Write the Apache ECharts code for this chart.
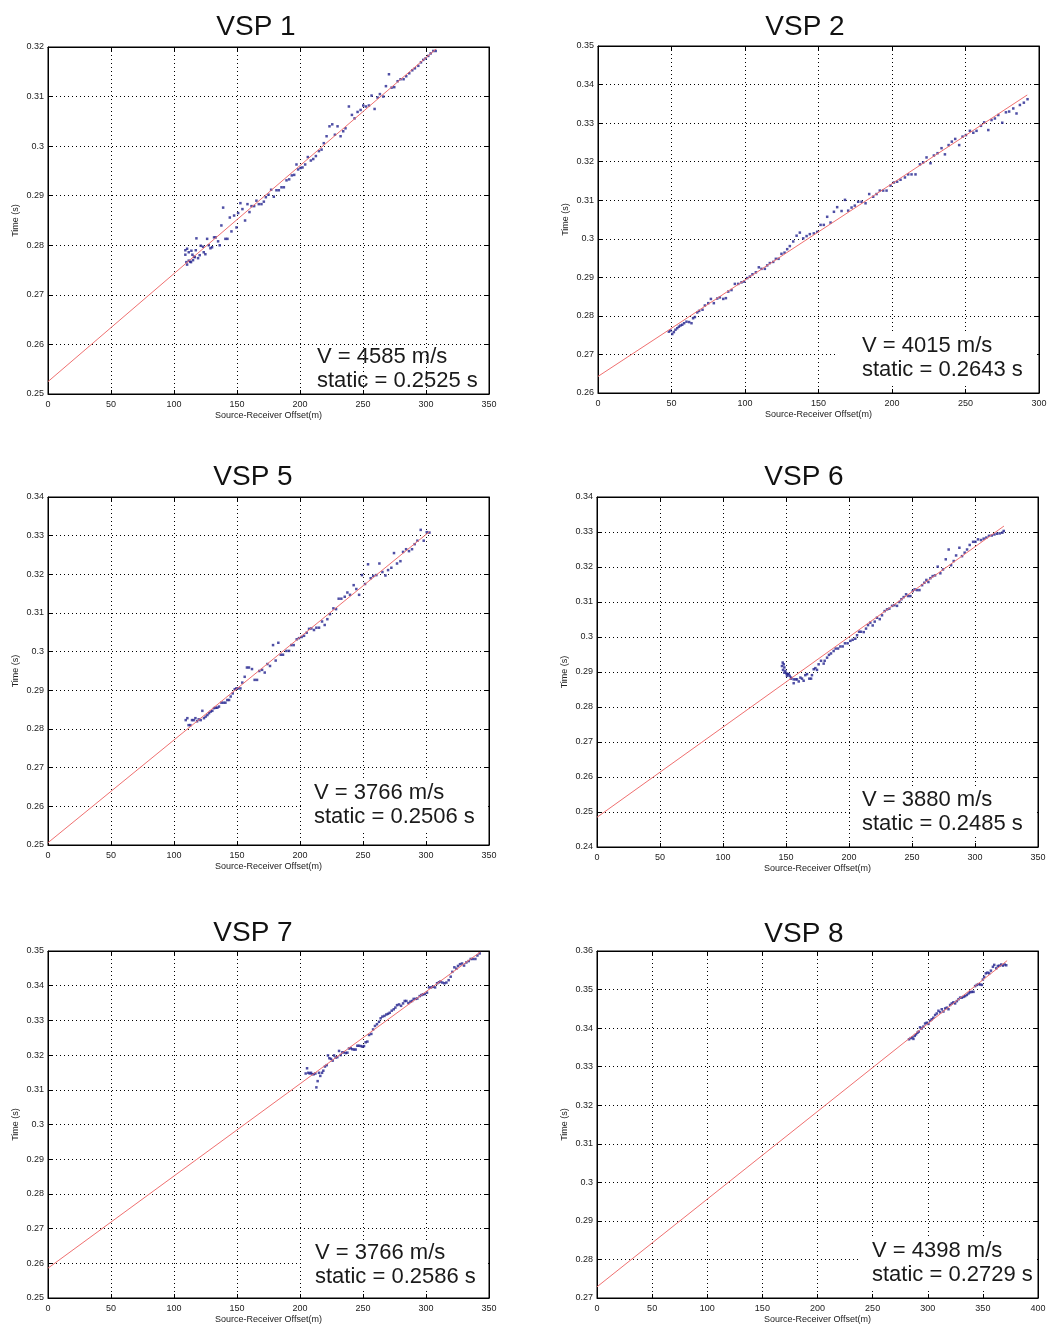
<!DOCTYPE html>
<html><head><meta charset="utf-8">
<script src="https://cdn.jsdelivr.net/npm/echarts@6/dist/echarts.min.js"></script>
<style>html,body{margin:0;padding:0;background:#fff}#c{width:1047px;height:1326px}</style>
</head><body><div id="c"></div>
<script>
// ---------------- DATA ----------------
const titles = ['VSP 1', 'VSP 2', 'VSP 5', 'VSP 6', 'VSP 7', 'VSP 8'];
const velocityLabels = ['V = 4585 m/s', 'V = 4015 m/s', 'V = 3766 m/s', 'V = 3880 m/s', 'V = 3766 m/s', 'V = 4398 m/s'];
const staticLabels = ['static = 0.2525 s', 'static = 0.2643 s', 'static = 0.2506 s', 'static = 0.2485 s', 'static = 0.2586 s', 'static = 0.2729 s'];
const xAxisMax = [350, 300, 350, 350, 350, 400];
const yAxisMin = [0.25, 0.26, 0.25, 0.24, 0.25, 0.27];
const yAxisMax = [0.32, 0.35, 0.34, 0.34, 0.35, 0.36];
const xTickStep = 50;
const yTickStep = 0.01;
const xAxisName = 'Source-Receiver Offset(m)';
const yAxisName = 'Time (s)';

// fitted lines: endpoints
const vsp1Fit = [[0, 0.2525], [308, 0.3196]];
const vsp2Fit = [[0, 0.2643], [292, 0.3373]];
const vsp5Fit = [[0, 0.2506], [303, 0.3311]];
const vsp6Fit = [[0, 0.2485], [323, 0.3317]];
const vsp7Fit = [[0, 0.2586], [343, 0.3497]];
const vsp8Fit = [[0, 0.2729], [372, 0.3575]];

// picked first-break times [offset m, time s]
const vsp1Points = [[109.0,0.2790],[110.4,0.2793],[109.0,0.2781],[111.7,0.2786],[113.8,0.2789],[117.3,0.2790],[114.6,0.2781],[115.9,0.2777],[112.8,0.2767],[109.8,0.2766],[110.4,0.2761],[111.7,0.2769],[113.5,0.2766],[115.1,0.2770],[116.5,0.2776],[117.8,0.2814],[119.1,0.2774],[120.4,0.2780],[121.2,0.2799],[123.1,0.2797],[123.6,0.2786],[124.9,0.2782],[126.3,0.2813],[127.6,0.2800],[128.9,0.2794],[130.2,0.2796],[131.8,0.2816],[133.1,0.2816],[135.0,0.2808],[136.3,0.2800],[137.6,0.2840],[139.0,0.2876],[140.8,0.2813],[142.4,0.2813],[144.3,0.2856],[145.6,0.2828],[147.7,0.2860],[149.6,0.2836],[150.9,0.2865],[152.7,0.2885],[154.3,0.2873],[156.4,0.2850],[158.3,0.2883],[159.9,0.2867],[161.5,0.2879],[163.6,0.2879],[165.4,0.2890],[167.3,0.2883],[169.4,0.2883],[171.3,0.2888],[172.9,0.2897],[175.0,0.2902],[177.1,0.2912],[179.2,0.2898],[181.3,0.2911],[183.2,0.2911],[185.3,0.2917],[187.2,0.2917],[189.3,0.2931],[191.4,0.2933],[193.5,0.2941],[195.4,0.2942],[197.2,0.2963],[198.5,0.2953],[200.4,0.2956],[202.0,0.2957],[204.1,0.2963],[206.2,0.2978],[208.6,0.2971],[210.5,0.2974],[212.6,0.2980],[215.0,0.2990],[217.1,0.2993],[218.9,0.3006],[221.1,0.3020],[223.4,0.3040],[225.6,0.3044],[227.7,0.3023],[229.8,0.3040],[232.2,0.3020],[234.3,0.3030],[236.1,0.3036],[238.8,0.3080],[241.2,0.3063],[243.3,0.3056],[245.7,0.3069],[248.1,0.3073],[250.2,0.3082],[252.3,0.3080],[254.7,0.3082],[256.8,0.3102],[259.2,0.3075],[261.6,0.3098],[263.4,0.3105],[266.1,0.3100],[268.2,0.3121],[270.6,0.3145],[272.7,0.3118],[274.8,0.3119],[277.5,0.3131],[279.8,0.3135],[282.2,0.3135],[284.3,0.3141],[286.7,0.3147],[289.1,0.3153],[291.2,0.3157],[293.9,0.3162],[296.0,0.3169],[297.8,0.3174],[299.7,0.3177],[301.8,0.3182],[303.7,0.3187],[305.8,0.3192],[307.7,0.3192]];

const vsp2Points = [[48.2,0.2759],[49.3,0.2762],[50.5,0.2753],[51.6,0.2758],[52.7,0.2764],[53.9,0.2768],[55.0,0.2772],[56.1,0.2775],[57.3,0.2777],[58.6,0.2781],[60.2,0.2785],[62.0,0.2784],[63.6,0.2781],[64.7,0.2794],[65.9,0.2797],[67.5,0.2809],[68.8,0.2813],[71.1,0.2816],[72.7,0.2827],[75.0,0.2833],[76.8,0.2844],[78.8,0.2833],[81.1,0.2845],[82.9,0.2848],[85.2,0.2844],[87.0,0.2846],[88.6,0.2863],[90.8,0.2867],[93.1,0.2883],[95.4,0.2883],[97.6,0.2887],[99.4,0.2889],[101.5,0.2898],[103.3,0.2902],[105.1,0.2908],[107.4,0.2913],[109.4,0.2926],[111.2,0.2922],[113.5,0.2922],[115.1,0.2931],[116.9,0.2937],[119.2,0.2940],[121.0,0.2948],[122.8,0.2948],[124.8,0.2961],[126.9,0.2964],[128.7,0.2973],[130.5,0.2981],[132.8,0.2993],[135.1,0.3008],[137.3,0.3016],[139.6,0.3001],[141.9,0.3007],[144.1,0.3012],[146.8,0.3014],[149.1,0.3018],[151.4,0.3036],[153.6,0.3036],[155.9,0.3057],[158.2,0.3042],[160.5,0.3070],[162.7,0.3082],[165.7,0.3072],[168.0,0.3101],[170.2,0.3073],[172.5,0.3081],[174.7,0.3086],[177.0,0.3096],[179.3,0.3096],[182.0,0.3092],[184.5,0.3116],[187.2,0.3109],[189.5,0.3116],[191.7,0.3125],[194.0,0.3125],[196.3,0.3125],[199.0,0.3138],[201.3,0.3146],[203.5,0.3148],[205.8,0.3153],[208.8,0.3159],[211.0,0.3167],[213.3,0.3167],[216.0,0.3167],[219.0,0.3193],[221.2,0.3198],[223.5,0.3211],[226.2,0.3196],[228.5,0.3216],[231.0,0.3222],[233.7,0.3235],[236.0,0.3219],[238.5,0.3243],[240.7,0.3252],[243.0,0.3259],[245.7,0.3243],[248.0,0.3265],[250.3,0.3269],[253.0,0.3280],[255.3,0.3275],[257.5,0.3280],[260.5,0.3293],[262.7,0.3302],[265.5,0.3282],[267.7,0.3308],[270.0,0.3312],[272.3,0.3321],[275.0,0.3301],[277.5,0.3328],[279.7,0.3330],[282.5,0.3338],[284.7,0.3325],[287.0,0.3347],[289.7,0.3353],[292.2,0.3362]];

const vsp5Points = [[109.3,0.2823],[110.6,0.2828],[111.6,0.2810],[113.0,0.2810],[114.3,0.2823],[115.6,0.2823],[117.0,0.2828],[118.3,0.2820],[119.6,0.2825],[121.2,0.2823],[122.5,0.2847],[123.8,0.2828],[125.1,0.2832],[126.5,0.2836],[127.8,0.2841],[129.1,0.2845],[130.4,0.2847],[131.8,0.2854],[133.1,0.2855],[134.4,0.2855],[135.7,0.2858],[137.6,0.2868],[139.2,0.2868],[140.8,0.2868],[142.3,0.2875],[143.7,0.2875],[145.0,0.2884],[146.6,0.2892],[148.2,0.2903],[149.5,0.2905],[150.8,0.2905],[152.7,0.2905],[154.2,0.2920],[156.1,0.2935],[157.9,0.2959],[159.5,0.2959],[161.9,0.2955],[164.0,0.2927],[165.9,0.2927],[167.7,0.2950],[169.9,0.2953],[172.0,0.2946],[174.1,0.2968],[176.2,0.2963],[178.6,0.3017],[180.7,0.2977],[182.8,0.3023],[184.7,0.2992],[186.5,0.2992],[189.2,0.3002],[191.3,0.3002],[193.1,0.3017],[195.0,0.3017],[197.4,0.3032],[199.2,0.3035],[201.3,0.3038],[203.2,0.3041],[205.3,0.3049],[207.2,0.3059],[209.0,0.3060],[211.1,0.3056],[213.0,0.3062],[215.1,0.3062],[217.5,0.3078],[219.6,0.3069],[221.7,0.3084],[223.8,0.3097],[226.5,0.3112],[228.6,0.3110],[230.7,0.3137],[232.8,0.3137],[235.5,0.3142],[237.6,0.3153],[239.7,0.3147],[242.6,0.3172],[244.7,0.3162],[246.9,0.3147],[249.2,0.3198],[251.6,0.3175],[254.0,0.3226],[256.1,0.3190],[258.2,0.3196],[260.6,0.3198],[263.0,0.3228],[265.4,0.3206],[267.8,0.3197],[269.9,0.3211],[272.5,0.3217],[274.6,0.3255],[277.0,0.3228],[279.7,0.3234],[281.8,0.3258],[284.2,0.3265],[286.5,0.3260],[288.9,0.3265],[291.0,0.3278],[293.2,0.3287],[295.8,0.3315],[298.2,0.3287],[300.6,0.3309],[302.7,0.3308]];

const vsp6Points = [[147.4,0.2927],[148.2,0.2922],[146.8,0.2917],[148.7,0.2913],[147.6,0.2906],[149.5,0.2903],[148.7,0.2898],[150.3,0.2896],[151.3,0.2894],[152.1,0.2894],[150.8,0.2889],[152.9,0.2889],[154.0,0.2884],[154.0,0.2881],[156.1,0.2879],[156.1,0.2868],[157.7,0.2879],[158.7,0.2879],[160.1,0.2873],[161.4,0.2884],[162.7,0.2881],[164.0,0.2875],[165.3,0.2891],[166.7,0.2894],[168.5,0.2881],[169.9,0.2881],[170.6,0.2891],[172.0,0.2908],[173.3,0.2911],[174.6,0.2906],[175.9,0.2922],[177.8,0.2932],[179.9,0.2924],[180.7,0.2932],[182.6,0.2941],[184.1,0.2949],[185.7,0.2953],[187.8,0.2960],[189.4,0.2967],[191.3,0.2967],[193.1,0.2973],[195.0,0.2973],[196.8,0.2982],[198.9,0.2982],[201.1,0.2989],[202.9,0.2992],[205.0,0.2995],[206.4,0.3005],[208.0,0.3015],[209.5,0.3015],[211.7,0.3014],[213.5,0.3024],[215.1,0.3034],[216.9,0.3041],[218.8,0.3033],[220.4,0.3044],[222.2,0.3055],[224.4,0.3051],[226.2,0.3062],[228.3,0.3074],[230.2,0.3079],[232.0,0.3081],[234.2,0.3089],[236.0,0.3091],[238.1,0.3089],[240.0,0.3100],[241.6,0.3108],[243.4,0.3114],[245.3,0.3122],[246.9,0.3117],[248.7,0.3117],[250.6,0.3131],[252.1,0.3136],[254.0,0.3134],[255.9,0.3134],[258.0,0.3148],[259.8,0.3155],[261.4,0.3163],[263.0,0.3157],[264.6,0.3168],[266.4,0.3174],[268.3,0.3176],[270.4,0.3201],[272.5,0.3182],[274.6,0.3193],[276.8,0.3222],[279.1,0.3250],[281.0,0.3205],[283.1,0.3217],[285.0,0.3233],[287.6,0.3255],[289.7,0.3231],[291.8,0.3241],[293.7,0.3250],[295.8,0.3263],[298.5,0.3272],[300.3,0.3272],[302.4,0.3279],[304.8,0.3277],[306.9,0.3281],[309.0,0.3284],[311.1,0.3289],[313.3,0.3290],[315.4,0.3293],[317.5,0.3295],[319.6,0.3296],[321.7,0.3298],[322.8,0.3303]];

const vsp7Points = [[204.5,0.3147],[205.6,0.3162],[206.6,0.3149],[207.7,0.3147],[208.7,0.3149],[209.8,0.3145],[210.9,0.3145],[212.2,0.3147],[213.0,0.3107],[214.0,0.3125],[215.1,0.3149],[216.1,0.3140],[217.5,0.3149],[218.5,0.3155],[219.8,0.3167],[221.2,0.3171],[222.2,0.3199],[223.3,0.3191],[224.6,0.3189],[225.9,0.3184],[227.0,0.3199],[228.3,0.3193],[229.6,0.3194],[231.0,0.3212],[232.3,0.3200],[233.6,0.3208],[234.9,0.3208],[236.3,0.3206],[237.6,0.3207],[238.9,0.3219],[240.2,0.3220],[241.5,0.3217],[242.9,0.3216],[244.2,0.3216],[245.5,0.3227],[246.8,0.3227],[248.4,0.3226],[249.7,0.3224],[250.8,0.3226],[252.1,0.3237],[253.5,0.3239],[254.8,0.3258],[256.6,0.3261],[258.0,0.3274],[259.5,0.3284],[261.1,0.3289],[262.7,0.3296],[264.0,0.3306],[265.4,0.3311],[267.0,0.3313],[268.5,0.3317],[269.9,0.3319],[271.2,0.3322],[272.8,0.3328],[274.4,0.3332],[275.7,0.3337],[277.0,0.3344],[278.6,0.3346],[280.2,0.3342],[281.8,0.3349],[283.1,0.3356],[284.4,0.3356],[286.0,0.3350],[287.6,0.3354],[288.9,0.3356],[290.2,0.3362],[291.8,0.3362],[293.1,0.3363],[295.0,0.3370],[296.3,0.3373],[297.6,0.3375],[299.0,0.3376],[300.8,0.3380],[302.4,0.3395],[304.0,0.3395],[305.6,0.3397],[307.2,0.3395],[308.8,0.3407],[310.3,0.3410],[311.4,0.3412],[313.0,0.3409],[314.6,0.3407],[316.2,0.3409],[318.0,0.3416],[319.6,0.3426],[320.9,0.3440],[322.5,0.3453],[324.1,0.3449],[325.4,0.3457],[327.0,0.3462],[328.6,0.3464],[330.2,0.3458],[332.0,0.3467],[333.9,0.3471],[335.5,0.3477],[337.3,0.3477],[339.2,0.3477],[340.8,0.3487],[342.6,0.3493]];

const vsp8Points = [[283.0,0.3371],[284.5,0.3374],[286.1,0.3376],[287.0,0.3372],[288.2,0.3380],[289.4,0.3384],[290.6,0.3388],[291.8,0.3391],[293.0,0.3402],[294.5,0.3399],[296.1,0.3404],[297.6,0.3412],[299.1,0.3414],[300.6,0.3411],[302.1,0.3419],[303.6,0.3423],[305.1,0.3427],[306.7,0.3434],[308.2,0.3438],[309.7,0.3445],[311.2,0.3441],[312.7,0.3449],[314.2,0.3443],[315.8,0.3451],[317.3,0.3453],[318.8,0.3449],[320.3,0.3460],[321.8,0.3464],[323.3,0.3467],[324.8,0.3464],[326.4,0.3470],[327.9,0.3475],[329.4,0.3479],[330.9,0.3479],[332.4,0.3481],[333.9,0.3483],[335.5,0.3486],[337.0,0.3490],[338.5,0.3493],[340.0,0.3494],[341.5,0.3494],[343.0,0.3509],[344.5,0.3512],[346.1,0.3514],[347.6,0.3513],[349.1,0.3512],[350.0,0.3526],[351.2,0.3533],[352.7,0.3542],[354.2,0.3544],[355.7,0.3542],[357.3,0.3549],[359.1,0.3559],[360.3,0.3564],[362.1,0.3555],[363.6,0.3561],[365.1,0.3562],[366.7,0.3565],[368.2,0.3562],[369.7,0.3565],[371.2,0.3563]];

const allPoints = [vsp1Points, vsp2Points, vsp5Points, vsp6Points, vsp7Points, vsp8Points];
const allFits = [vsp1Fit, vsp2Fit, vsp5Fit, vsp6Fit, vsp7Fit, vsp8Fit];

// ---------------- LAYOUT ----------------
const layout = [
  {l: 48,  t: 47,  w: 441, h: 347, tx: 256, ty: 27,  ax: 317, ay: 357, box: null},
  {l: 598, t: 46,  w: 441, h: 347, tx: 805, ty: 27,  ax: 862, ay: 346, box: [838, 333, 199, 50]},
  {l: 48,  t: 497, w: 441, h: 348, tx: 253, ty: 477, ax: 314, ay: 793, box: [302, 780, 186, 50]},
  {l: 597, t: 497, w: 441, h: 350, tx: 804, ty: 477, ax: 862, ay: 800, box: [850, 787, 187, 49]},
  {l: 48,  t: 951, w: 441, h: 347, tx: 253, ty: 933, ax: 315, ay: 1253, box: [303, 1240, 185, 51]},
  {l: 597, t: 951, w: 441, h: 347, tx: 804, ty: 934, ax: 872, ay: 1251, box: [860, 1238, 177, 51]}
];

const FONT = '"Liberation Sans", Arial, Helvetica, sans-serif';
const fmtY = v => String(parseFloat(v.toFixed(2)));

const grid = [], xAxis = [], yAxis = [], series = [], graphic = [];
layout.forEach((L, i) => {
  grid.push({left: L.l, top: L.t, width: L.w, height: L.h, show: true,
    borderColor: '#000', borderWidth: 1, backgroundColor: 'transparent',
    containLabel: false, outerBoundsMode: 'none'});
  const xBase = {gridIndex: i, type: 'value', min: 0, max: xAxisMax[i], interval: xTickStep,
    axisLine: {show: true, onZero: false, lineStyle: {color: '#000', width: 1}},
    axisTick: {show: true, inside: true, length: 4, lineStyle: {color: '#000'}}};
  xAxis.push(Object.assign({}, xBase, {position: 'bottom',
    name: xAxisName, nameLocation: 'middle', nameGap: 17,
    nameTextStyle: {fontFamily: FONT, fontSize: 9, color: '#222'},
    axisLabel: {fontFamily: FONT, fontSize: 9, color: '#222', margin: 6},
    splitLine: {show: true, lineStyle: {color: '#000', width: 1, type: [1, 3]}}}));
  xAxis.push(Object.assign({}, xBase, {position: 'top',
    axisLabel: {show: false}, splitLine: {show: false}}));
  const yBase = {gridIndex: i, type: 'value', min: yAxisMin[i], max: yAxisMax[i], interval: yTickStep,
    axisLine: {show: true, onZero: false, lineStyle: {color: '#000', width: 1}},
    axisTick: {show: true, inside: true, length: 4, lineStyle: {color: '#000'}}};
  yAxis.push(Object.assign({}, yBase, {position: 'left',
    name: yAxisName, nameLocation: 'middle', nameGap: 28,
    nameTextStyle: {fontFamily: FONT, fontSize: 9, color: '#222'},
    axisLabel: {fontFamily: FONT, fontSize: 9, color: '#222', margin: 4, formatter: fmtY},
    splitLine: {show: true, lineStyle: {color: '#000', width: 1, type: [1, 3]}}}));
  yAxis.push(Object.assign({}, yBase, {position: 'right',
    axisLabel: {show: false}, splitLine: {show: false}}));

  series.push({type: 'scatter', xAxisIndex: 2 * i, yAxisIndex: 2 * i,
    data: allPoints[i], symbol: 'rect', symbolSize: 2.5,
    itemStyle: {color: '#23238f'}, silent: true, z: 3});
  series.push({type: 'line', xAxisIndex: 2 * i, yAxisIndex: 2 * i,
    data: allFits[i], showSymbol: false, symbol: 'none',
    lineStyle: {color: '#f07070', width: 1}, silent: true, z: 4});

  graphic.push({type: 'text', x: L.tx, y: L.ty, z: 10,
    style: {text: titles[i], fontFamily: FONT, fontSize: 28, fill: '#111',
      align: 'center', verticalAlign: 'middle'}});
  if (L.box) {
    graphic.push({type: 'rect', shape: {x: L.box[0], y: L.box[1], width: L.box[2], height: L.box[3]},
      style: {fill: '#fff'}, z: 5});
  }
  graphic.push({type: 'text', x: L.ax, y: L.ay, z: 10,
    style: {text: velocityLabels[i], fontFamily: FONT, fontSize: 22, fill: '#1a1a1a',
      align: 'left', verticalAlign: 'middle'}});
  graphic.push({type: 'text', x: L.ax, y: L.ay + 24, z: 10,
    style: {text: staticLabels[i], fontFamily: FONT, fontSize: 22, fill: '#1a1a1a',
      align: 'left', verticalAlign: 'middle'}});
});

const chart = echarts.init(document.getElementById('c'), null, {renderer: 'canvas'});
chart.setOption({
  animation: false,
  backgroundColor: '#fff',
  grid, xAxis, yAxis, series, graphic
});
</script>
</body></html>
